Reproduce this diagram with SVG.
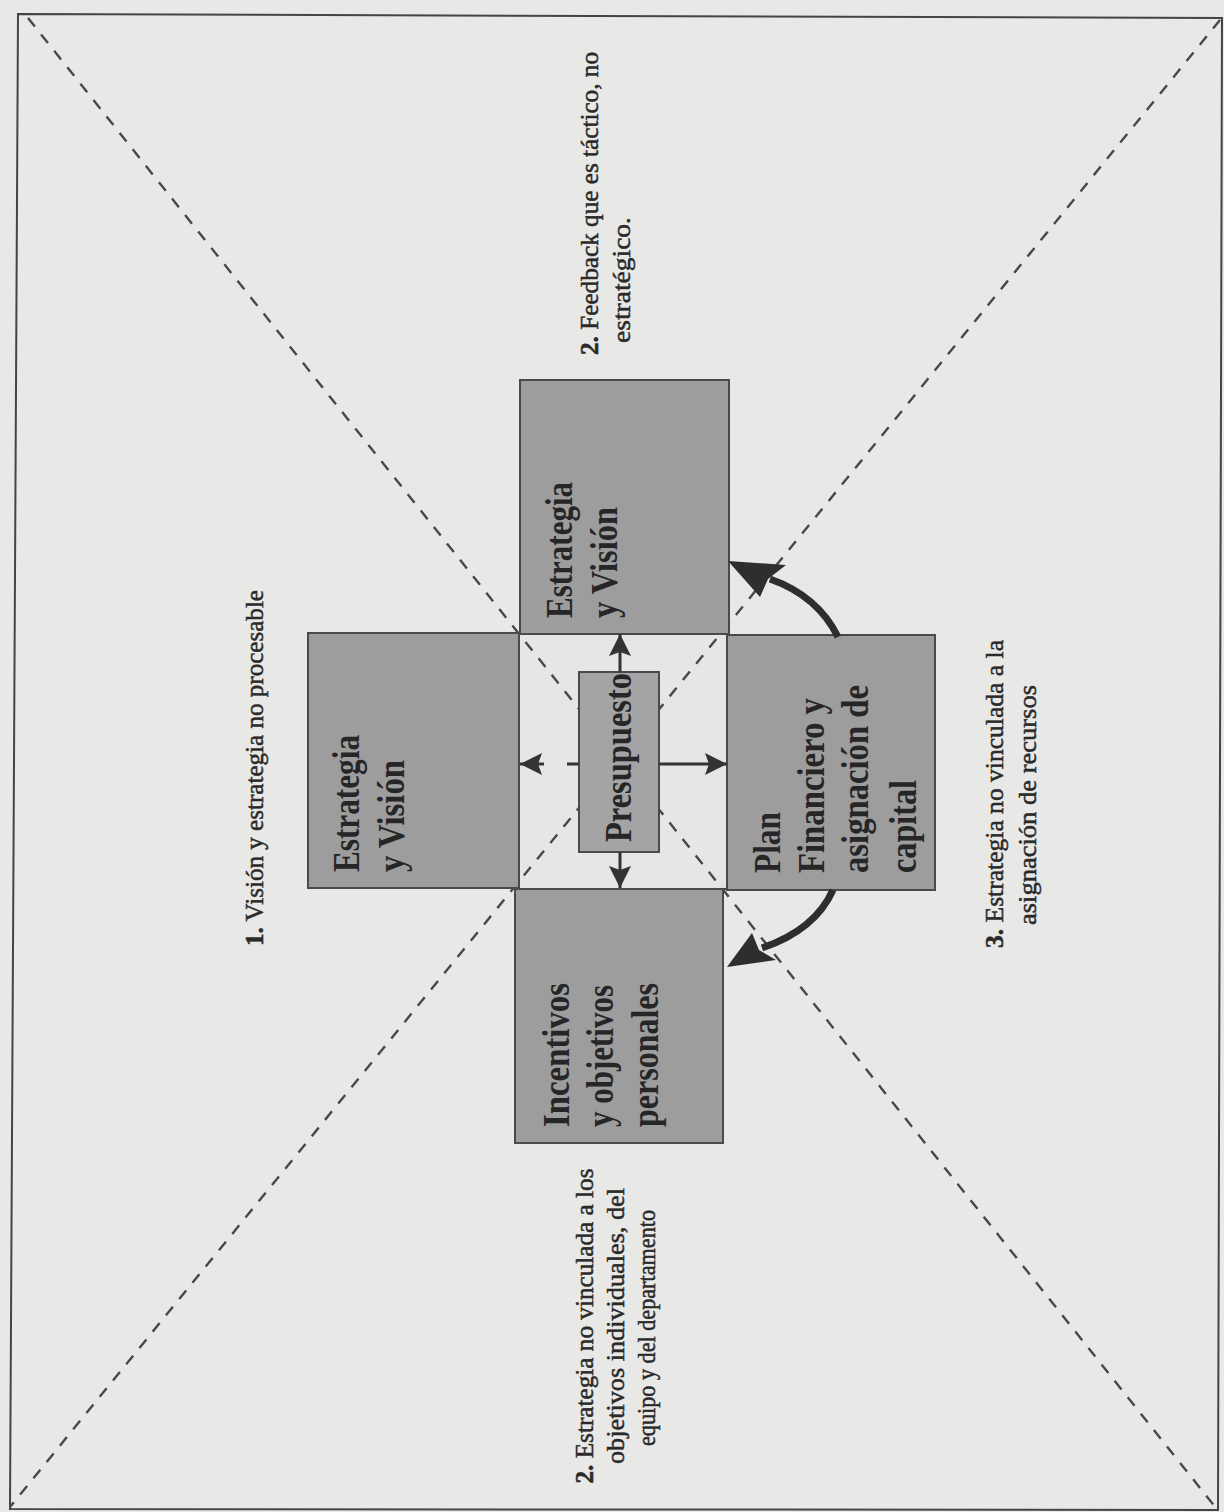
<svg xmlns="http://www.w3.org/2000/svg" width="1224" height="1512" viewBox="0 0 1224 1512">
  <style>
    .box { fill: #9d9d9d; stroke: #4a4a4a; stroke-width: 2; }
    .core { fill: #e6e6e6; stroke: #4a4a4a; stroke-width: 2; }
    .label { font-family: "Liberation Serif", "Times New Roman", serif; font-weight: bold; font-size: 38px; fill: #262626; }
    .note { font-family: "Liberation Serif", "Times New Roman", serif; font-size: 26px; fill: #2a2a2a; stroke: #2a2a2a; stroke-width: 0.5; }
    .note tspan.num { font-weight: bold; }
    .diag { stroke: #484848; stroke-width: 2.4; stroke-dasharray: 11 10; fill: none; }
    .shaft { stroke: #333; stroke-width: 3; fill: none; }
    .curve { stroke: #2e2e2e; stroke-width: 7; fill: none; }
    .head { fill: #2e2e2e; }
  </style>
  <defs>
    <marker id="tip" viewBox="0 0 22 22" refX="22" refY="11" markerWidth="22" markerHeight="22" markerUnits="userSpaceOnUse" orient="auto">
      <path d="M0,0 L22,11 L0,22 L4,11 Z" fill="#333"/>
    </marker>
  </defs>

  <!-- page and outer frame -->
  <rect x="0" y="0" width="1224" height="1512" fill="#e8e8e6"/>
  <polygon points="18,14 1222,18 1218,1510 10,1509" fill="none" stroke="#444" stroke-width="2"/>

  <!-- central square behind the budget box -->
  <g id="core">
    <rect class="core" x="519" y="634" width="208" height="255"/>
  </g>

  <!-- dashed corner-to-corner diagonals -->
  <g id="diagonals">
    <line class="diag" x1="28" y1="18" x2="1216" y2="1508"/>
    <line class="diag" x1="1220" y1="20" x2="10" y2="1507"/>
  </g>

  <!-- surrounding blocks -->
  <g id="node-top">
    <rect class="box" x="520" y="380" width="209" height="254"/>
    <text class="label" transform="translate(572,618) rotate(-90)" textLength="136" lengthAdjust="spacingAndGlyphs">Estrategia</text>
    <text class="label" transform="translate(617,618) rotate(-90)" textLength="111" lengthAdjust="spacingAndGlyphs">y Visión</text>
  </g>

  <g id="node-left">
    <rect class="box" x="308" y="633" width="211" height="255"/>
    <text class="label" transform="translate(359,872) rotate(-90)" textLength="137" lengthAdjust="spacingAndGlyphs">Estrategia</text>
    <text class="label" transform="translate(404,872) rotate(-90)" textLength="112" lengthAdjust="spacingAndGlyphs">y Visión</text>
  </g>

  <g id="node-right">
    <rect class="box" x="727" y="635" width="208" height="255"/>
    <text class="label" transform="translate(780,873) rotate(-90)" textLength="61" lengthAdjust="spacingAndGlyphs">Plan</text>
    <text class="label" transform="translate(824,873) rotate(-90)" textLength="175" lengthAdjust="spacingAndGlyphs">Financiero y</text>
    <text class="label" transform="translate(868,873) rotate(-90)" textLength="188" lengthAdjust="spacingAndGlyphs">asignación de</text>
    <text class="label" transform="translate(916,873) rotate(-90)" textLength="93" lengthAdjust="spacingAndGlyphs">capital</text>
  </g>

  <g id="node-bottom">
    <rect class="box" x="515" y="889" width="208" height="254"/>
    <text class="label" transform="translate(569,1127) rotate(-90)" textLength="144" lengthAdjust="spacingAndGlyphs">Incentivos</text>
    <text class="label" transform="translate(613,1127) rotate(-90)" textLength="142" lengthAdjust="spacingAndGlyphs">y objetivos</text>
    <text class="label" transform="translate(658,1127) rotate(-90)" textLength="144" lengthAdjust="spacingAndGlyphs">personales</text>
  </g>

  <g id="node-budget">
    <rect class="box" x="579" y="672" width="80" height="180" style="fill:#a4a4a4"/>
    <text class="label" transform="translate(631,842) rotate(-90)" textLength="169" lengthAdjust="spacingAndGlyphs">Presupuesto</text>
  </g>

  <!-- connectors -->
  <g id="connectors">
    <line class="shaft" x1="620" y1="672" x2="620" y2="634" marker-end="url(#tip)"/>
    <line class="shaft" x1="620" y1="852" x2="620" y2="888" marker-end="url(#tip)"/>
    <line class="shaft" x1="659" y1="764" x2="727" y2="764" marker-end="url(#tip)"/>
    <line class="shaft" x1="544" y1="764" x2="520" y2="764" marker-end="url(#tip)"/>
    <line class="shaft" x1="567" y1="764" x2="579" y2="764"/>

    <path class="curve" d="M838,637 Q818,596 770,579"/>
    <polygon class="head" points="728,561 786,565 768,579 760,597"/>

    <path class="curve" d="M833,890 Q815,930 762,948"/>
    <polygon class="head" points="727,967 752,933 759,950 776,960"/>
  </g>

  <!-- side notes -->
  <g id="note-1">
    <text class="note" transform="translate(263,946) rotate(-90)" textLength="356" lengthAdjust="spacingAndGlyphs"><tspan class="num">1.</tspan> Visión y estrategia no procesable</text>
  </g>
  <g id="note-2-top">
    <text class="note" transform="translate(598,355) rotate(-90)" textLength="303" lengthAdjust="spacingAndGlyphs"><tspan class="num">2.</tspan> Feedback que es táctico, no</text>
    <text class="note" transform="translate(630,343) rotate(-90)" textLength="126" lengthAdjust="spacingAndGlyphs">estratégico.</text>
  </g>
  <g id="note-3">
    <text class="note" transform="translate(1003,948) rotate(-90)" textLength="308" lengthAdjust="spacingAndGlyphs"><tspan class="num">3.</tspan> Estrategia no vinculada a la</text>
    <text class="note" transform="translate(1036,925) rotate(-90)" textLength="240" lengthAdjust="spacingAndGlyphs">asignación de recursos</text>
  </g>
  <g id="note-2-bottom">
    <text class="note" text-anchor="middle" transform="translate(593,1326) rotate(-90)" textLength="315" lengthAdjust="spacingAndGlyphs"><tspan class="num">2.</tspan> Estrategia no vinculada a los</text>
    <text class="note" text-anchor="middle" transform="translate(624,1326) rotate(-90)" textLength="276" lengthAdjust="spacingAndGlyphs">objetivos individuales, del</text>
    <text class="note" text-anchor="middle" transform="translate(655,1328) rotate(-90)" textLength="236" lengthAdjust="spacingAndGlyphs">equipo y del departamento</text>
  </g>
</svg>
